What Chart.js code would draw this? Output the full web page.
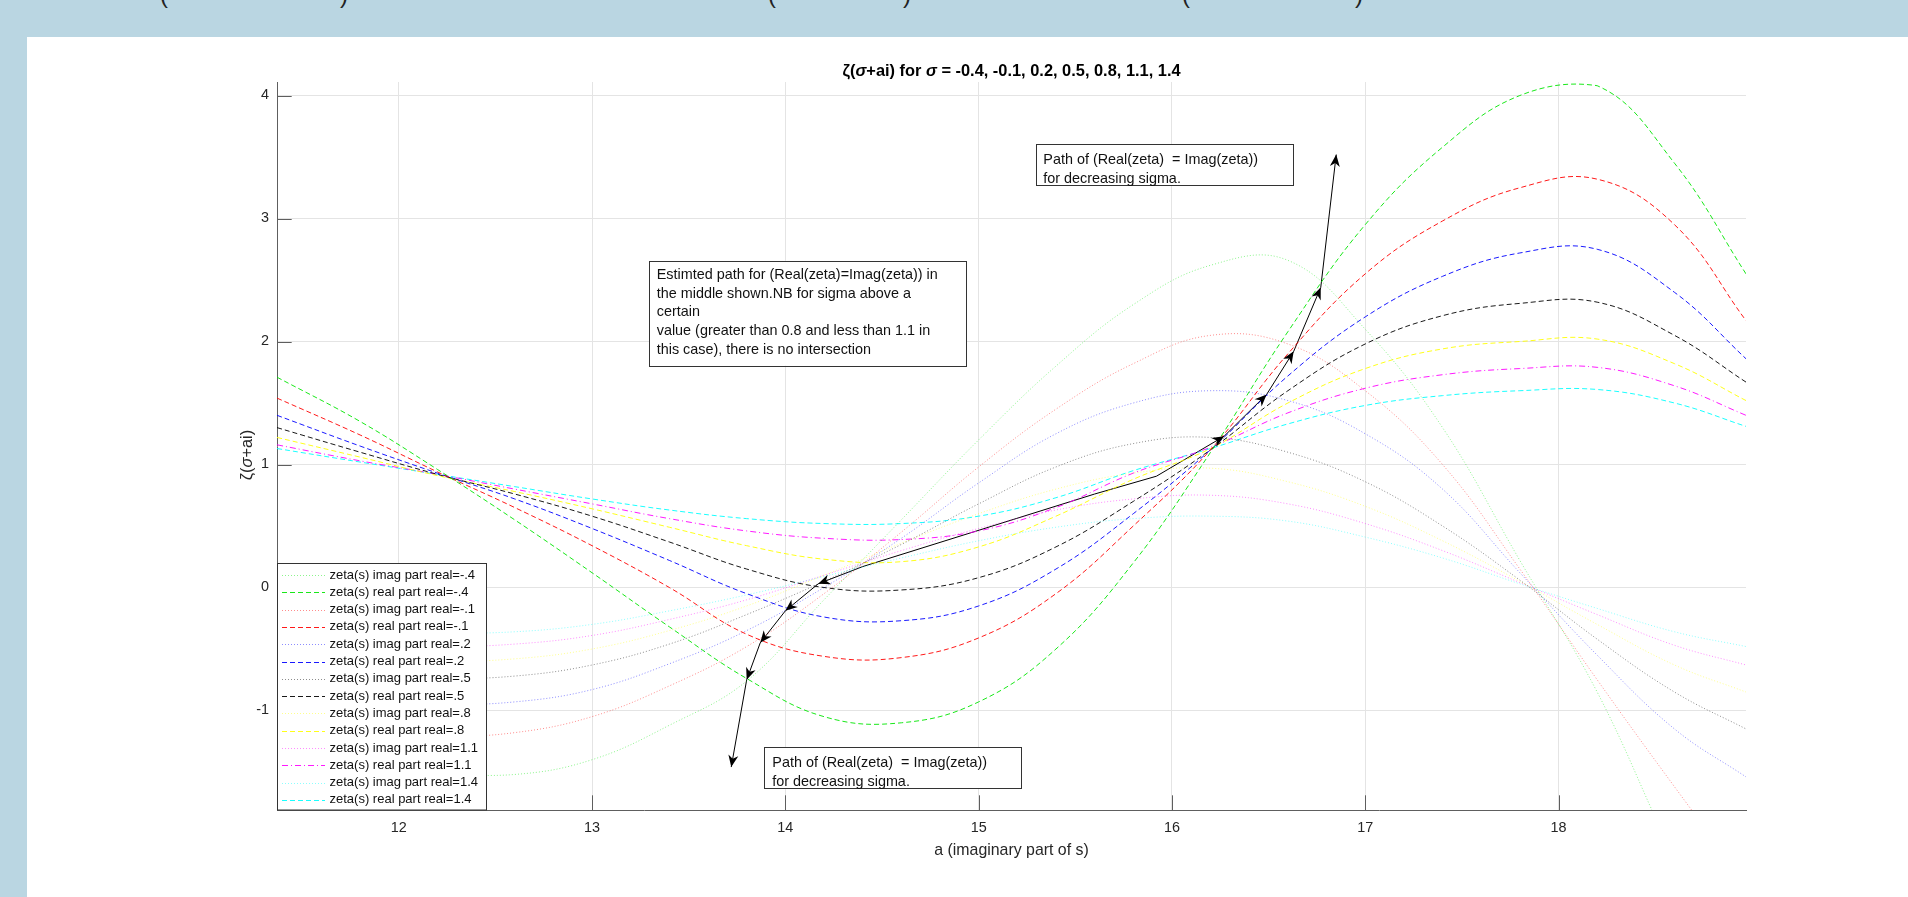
<!DOCTYPE html>
<html>
<head>
<meta charset="utf-8">
<script src="https://cdn.jsdelivr.net/npm/chart.js@4.4.1/dist/chart.umd.min.js"></script>
<style>
html,body{margin:0;padding:0;width:1908px;height:897px;overflow:hidden;background:#bad6e2;font-family:"Liberation Sans",Arial,sans-serif;}
#panel{position:absolute;left:27px;top:37px;right:0;bottom:0;background:#ffffff;}
#cv{position:absolute;left:0;top:0;}
.cut{position:absolute;top:-17px;font-size:24px;line-height:24px;color:#222;}
</style>
</head>
<body>
<div id="panel"></div>
<span class="cut" style="left:160px">(</span>
<span class="cut" style="left:340px">)</span>
<span class="cut" style="left:768px">(</span>
<span class="cut" style="left:903px">)</span>
<span class="cut" style="left:1182px">(</span>
<span class="cut" style="left:1355px">)</span>
<canvas id="cv" width="1908" height="897"></canvas>
<script>
// ---------------- data ----------------
const aVals = [11.37, 11.8, 12.2, 12.6, 13.0, 13.4, 13.8, 14.2, 14.6, 15.0, 15.4, 15.8, 16.2, 16.6, 17.0, 17.4, 17.8, 18.2, 18.6, 18.97];

// real parts (dashed)
const reM04 = [1.71, 1.35, 0.96, 0.55, 0.12, -0.32, -0.74, -1.05, -1.1, -0.93, -0.5, 0.2, 1.1, 2.08, 2.95, 3.58, 4.0, 4.08, 3.45, 2.55];
const reM01 = [1.54, 1.24, 0.94, 0.65, 0.34, 0.0, -0.38, -0.56, -0.57, -0.41, -0.05, 0.5, 1.12, 1.9, 2.55, 2.98, 3.25, 3.32, 2.95, 2.17];
const reP02 = [1.40, 1.15, 0.93, 0.72, 0.48, 0.22, -0.05, -0.24, -0.27, -0.15, 0.15, 0.6, 1.12, 1.72, 2.2, 2.53, 2.72, 2.75, 2.4, 1.86];
const reP05 = [1.30, 1.1, 0.92, 0.76, 0.58, 0.37, 0.15, 0.0, -0.02, 0.08, 0.33, 0.7, 1.12, 1.6, 1.98, 2.21, 2.31, 2.32, 2.05, 1.67];
const reP08 = [1.22, 1.06, 0.91, 0.78, 0.64, 0.49, 0.34, 0.23, 0.21, 0.33, 0.58, 0.88, 1.13, 1.5, 1.78, 1.94, 2.0, 2.02, 1.82, 1.52];
const reP11 = [1.16, 1.03, 0.92, 0.8, 0.68, 0.56, 0.46, 0.4, 0.39, 0.46, 0.65, 0.93, 1.14, 1.42, 1.62, 1.73, 1.78, 1.79, 1.64, 1.40];
const reP14 = [1.13, 1.02, 0.92, 0.82, 0.72, 0.63, 0.56, 0.52, 0.52, 0.58, 0.73, 0.95, 1.13, 1.33, 1.48, 1.56, 1.6, 1.61, 1.5, 1.31];

// imaginary parts (dotted)
const imM04 = [-1.3, -1.42, -1.5, -1.52, -1.4, -1.12, -0.76, -0.1, 0.55, 1.2, 1.8, 2.3, 2.62, 2.66, 2.1, 1.3, 0.22, -0.85, -2.2, -3.3];
const imM01 = [-1.1, -1.18, -1.21, -1.18, -1.05, -0.8, -0.48, -0.05, 0.45, 0.98, 1.45, 1.82, 2.05, 1.98, 1.6, 1.0, 0.15, -0.75, -1.62, -2.4];
const imP02 = [-0.85, -0.92, -0.95, -0.93, -0.83, -0.62, -0.35, 0.0, 0.4, 0.85, 1.25, 1.5, 1.6, 1.52, 1.25, 0.8, 0.12, -0.55, -1.15, -1.54];
const imP05 = [-0.65, -0.71, -0.74, -0.72, -0.63, -0.46, -0.22, 0.05, 0.35, 0.68, 0.98, 1.17, 1.22, 1.1, 0.86, 0.5, 0.06, -0.42, -0.85, -1.15];
const imP08 = [-0.5, -0.57, -0.6, -0.58, -0.5, -0.35, -0.15, 0.1, 0.36, 0.6, 0.8, 0.93, 0.97, 0.86, 0.66, 0.38, 0.05, -0.3, -0.63, -0.85];
const imP11 = [-0.4, -0.46, -0.48, -0.46, -0.39, -0.26, -0.1, 0.1, 0.3, 0.48, 0.63, 0.72, 0.75, 0.68, 0.52, 0.3, 0.04, -0.22, -0.47, -0.63];
const imP14 = [-0.3, -0.35, -0.37, -0.36, -0.3, -0.19, -0.06, 0.09, 0.24, 0.38, 0.49, 0.56, 0.58, 0.54, 0.41, 0.24, 0.03, -0.17, -0.36, -0.48];

// estimated path of Re(zeta) = Im(zeta)
const pathA = [13.72, 13.80, 13.87, 14.00, 14.17, 14.40, 15.60, 15.92, 16.27, 16.49, 16.63, 16.77, 16.85];
const pathV = [-1.46, -0.75, -0.45, -0.19, 0.03, 0.17, 0.76, 0.905, 1.23, 1.57, 1.92, 2.44, 3.52];

const sigmaLabels = ['-.4', '-.1', '.2', '.5', '.8', '1.1', '1.4'];
const xTicks = [12, 13, 14, 15, 16, 17, 18];
const yTicks = [-1, 0, 1, 2, 3, 4];
const titleText = [{t:'\u03B6(', i:false}, {t:'\u03C3', i:true}, {t:'+ai) for ', i:false}, {t:'\u03C3', i:true}, {t:' = -0.4, -0.1, 0.2, 0.5, 0.8, 1.1, 1.4', i:false}];
const yLabelText = [{t:'\u03B6(', i:false}, {t:'\u03C3', i:true}, {t:'+ai)', i:false}];
const xLabelText = 'a (imaginary part of s)';
const midNote = ['Estimted path for (Real(zeta)=Imag(zeta)) in', 'the middle shown.NB for sigma above a', 'certain', 'value (greater than 0.8 and less than 1.1 in', 'this case), there is no intersection'];
const pathNote = ['Path of (Real(zeta)  = Imag(zeta))', 'for decreasing sigma.'];

// ---------------- styles ----------------
const reSeries = [reM04, reM01, reP02, reP05, reP08, reP11, reP14];
const imSeries = [imM04, imM01, imP02, imP05, imP08, imP11, imP14];
const rgb = ['0,230,0', '255,0,0', '0,0,255', '0,0,0', '255,255,0', '255,0,255', '0,255,255'];
const FAM = '"Liberation Sans", Arial, Helvetica, sans-serif';

const datasets = [];
for (let i = 0; i < 7; i++) {
  datasets.push({
    label: 'zeta(s) imag part real=' + sigmaLabels[i],
    data: aVals.map((a, k) => ({x: a, y: imSeries[i][k]})),
    borderColor: 'rgba(' + rgb[i] + ',0.45)',
    borderWidth: 1, borderDash: [1, 2], pointRadius: 0, tension: 0.4, fill: false
  });
  datasets.push({
    label: 'zeta(s) real part real=' + sigmaLabels[i],
    data: aVals.map((a, k) => ({x: a, y: reSeries[i][k]})),
    borderColor: 'rgba(' + rgb[i] + ',0.9)',
    borderWidth: 1, borderDash: (i === 5 ? [6, 3, 1, 3] : [5, 3]), pointRadius: 0, tension: 0.4, fill: false
  });
}
const nLegend = datasets.length;
datasets.push({
  label: 'path',
  data: pathA.map((a, k) => ({x: a, y: pathV[k]})),
  borderColor: '#000', borderWidth: 1, pointRadius: 0, tension: 0, fill: false
});
const arrowTips = [[0,1],[1,2],[2,3],[3,4],[4,5],[8,7],[9,8],[10,9],[11,10],[12,11]];

function rich(ctx, segs, x, y, size, bold) {
  let w = 0;
  const f = s => (s.i ? 'italic ' : '') + (bold ? 'bold ' : '') + size + 'px ' + FAM;
  segs.forEach(s => { ctx.font = f(s); s.w = ctx.measureText(s.t).width; w += s.w; });
  let cx = x - w / 2;
  ctx.textAlign = 'left';
  segs.forEach(s => { ctx.font = f(s); ctx.fillText(s.t, cx, y); cx += s.w; });
}

function textBox(ctx, x, y, w, h, lines, tx, ty0, lh) {
  ctx.fillStyle = '#fff';
  ctx.fillRect(x, y, w, h);
  ctx.strokeStyle = '#333'; ctx.lineWidth = 1;
  ctx.strokeRect(Math.round(x) + 0.5, Math.round(y) + 0.5, Math.round(w), Math.round(h));
  ctx.fillStyle = '#111';
  ctx.font = '14.4px ' + FAM; ctx.textAlign = 'left'; ctx.textBaseline = 'middle';
  lines.forEach((l, k) => ctx.fillText(l, tx, ty0 + k * lh));
}

const decor = {
  id: 'decor',
  afterDatasetsDraw(chart) {
    const ctx = chart.ctx, ca = chart.chartArea, xs = chart.scales.x, ys = chart.scales.y;
    ctx.save();
    // inward tick marks
    ctx.strokeStyle = '#5e5e5e'; ctx.lineWidth = 1;
    xTicks.forEach(v => { const p = Math.round(xs.getPixelForValue(v)) + 0.5; ctx.beginPath(); ctx.moveTo(p, ca.bottom); ctx.lineTo(p, ca.bottom - 14.7); ctx.stroke(); });
    yTicks.forEach(v => { const p = Math.round(ys.getPixelForValue(v)) + 0.5; ctx.beginPath(); ctx.moveTo(ca.left, p); ctx.lineTo(ca.left + 14.7, p); ctx.stroke(); });
    // arrow heads on the path
    ctx.fillStyle = '#000';
    arrowTips.forEach(([t, f]) => {
      const x2 = xs.getPixelForValue(pathA[t]), y2 = ys.getPixelForValue(pathV[t]);
      const x1 = xs.getPixelForValue(pathA[f]), y1 = ys.getPixelForValue(pathV[f]);
      const ang = Math.atan2(y2 - y1, x2 - x1);
      const L = 12, W = 5;
      ctx.save(); ctx.translate(x2, y2); ctx.rotate(ang);
      ctx.beginPath(); ctx.moveTo(0, 0); ctx.lineTo(-L, -W); ctx.lineTo(-L * 0.7, 0); ctx.lineTo(-L, W); ctx.closePath(); ctx.fill();
      ctx.restore();
    });
    // text boxes
    textBox(ctx, 649.3, 260.7, 317.4, 105, midNote, 656.7, 275, 18.75);
    textBox(ctx, 1035.7, 144.3, 256.6, 40.7, pathNote, 1043.3, 160.5, 18.4);
    textBox(ctx, 764.3, 747.3, 256.7, 41, pathNote, 772.3, 763.3, 18.4);
    // legend
    const lx = 277.5, ly = 563.5, lw = 209, lh = 246.5;
    ctx.fillStyle = '#fff'; ctx.fillRect(lx, ly, lw, lh);
    ctx.strokeStyle = '#333'; ctx.lineWidth = 1; ctx.setLineDash([]);
    ctx.strokeRect(lx, ly, lw, lh);
    ctx.font = '13px ' + FAM; ctx.textBaseline = 'middle'; ctx.textAlign = 'left';
    for (let k = 0; k < nLegend; k++) {
      const ds = datasets[k];
      const yy = 575 + k * 17.3;
      ctx.save();
      ctx.strokeStyle = ds.borderColor; ctx.lineWidth = 1; ctx.setLineDash(ds.borderDash);
      ctx.beginPath(); ctx.moveTo(282, Math.round(yy) + 0.5); ctx.lineTo(325, Math.round(yy) + 0.5); ctx.stroke();
      ctx.restore();
      ctx.fillStyle = '#111';
      ctx.fillText(ds.label, 329.5, yy);
    }
    // title and axis labels
    ctx.fillStyle = '#000'; ctx.textBaseline = 'middle';
    rich(ctx, titleText, (ca.left + ca.right) / 2, 71, 16.4, true);
    ctx.fillStyle = '#262626';
    ctx.font = '15.9px ' + FAM; ctx.textAlign = 'center';
    ctx.fillText(xLabelText, (ca.left + ca.right) / 2, 851);
    ctx.save(); ctx.translate(247, 455); ctx.rotate(-Math.PI / 2);
    rich(ctx, yLabelText, 0, 0, 16.4, false);
    ctx.restore();
    ctx.restore();
  }
};

new Chart(document.getElementById('cv'), {
  type: 'line',
  data: { datasets },
  options: {
    responsive: false, animation: false, devicePixelRatio: 1,
    layout: { padding: { left: 0, right: 162, top: 82, bottom: 0 } },
    plugins: { legend: { display: false }, title: { display: false }, tooltip: { enabled: false } },
    scales: {
      x: {
        type: 'linear', min: 11.37, max: 18.97,
        afterBuildTicks: s => { s.ticks = xTicks.map(v => ({ value: v })); },
        afterFit: s => { s.height = 87; },
        grid: { color: '#e4e4e4', drawTicks: false },
        border: { display: true, color: '#5e5e5e', width: 1 },
        ticks: { autoSkip: false, maxRotation: 0, padding: 9, color: '#262626', font: { family: FAM, size: 14.4 }, callback: v => String(v) }
      },
      y: {
        type: 'linear', min: -1.809, max: 4.11,
        afterBuildTicks: s => { s.ticks = yTicks.map(v => ({ value: v })); },
        afterFit: s => { s.width = 277; },
        grid: { color: '#e4e4e4', drawTicks: false },
        border: { display: true, color: '#5e5e5e', width: 1 },
        ticks: { padding: 8, color: '#262626', font: { family: FAM, size: 14.4 }, callback: v => String(v) }
      }
    }
  },
  plugins: [decor]
});
</script>
</body>
</html>
